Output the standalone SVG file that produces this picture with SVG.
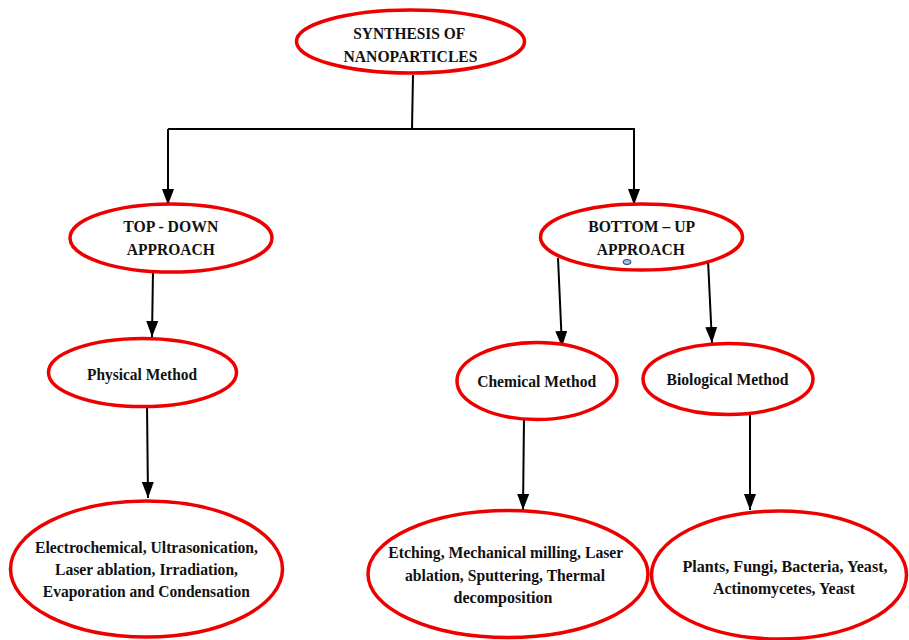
<svg xmlns="http://www.w3.org/2000/svg" width="909" height="640" viewBox="0 0 909 640">
<style>
.n ellipse{fill:#fff;stroke:#ee0000;stroke-width:3.5}
.n text{font-family:"Liberation Serif","Times New Roman",serif;font-weight:bold;font-size:17.5px;fill:#111;text-anchor:middle}
#biological-list text{font-size:16.5px}
.c line,.c polyline{stroke:#000;stroke-width:2;fill:none}
</style>
<defs>
<marker id="arr" viewBox="0 0 16 12" refX="16" refY="6" markerWidth="16" markerHeight="12" markerUnits="userSpaceOnUse" orient="auto">
<path d="M0,0 L16,6 L0,12 Z" fill="#000"/>
</marker>
</defs>
<rect width="909" height="640" fill="#fff"/>
<g class="c">
<line x1="413" y1="75" x2="412" y2="129"/>
<polyline points="168,129 634,129 634,205" marker-end="url(#arr)"/>
<line x1="168" y1="129" x2="168" y2="205" marker-end="url(#arr)"/>
<line x1="153" y1="270" x2="152" y2="337" marker-end="url(#arr)"/>
<line x1="147" y1="404" x2="148" y2="498" marker-end="url(#arr)"/>
<line x1="558" y1="258" x2="562" y2="347" marker-end="url(#arr)"/>
<line x1="708" y1="260" x2="712" y2="343" marker-end="url(#arr)"/>
<line x1="524" y1="418" x2="523" y2="510" marker-end="url(#arr)"/>
<line x1="750" y1="411" x2="750" y2="510" marker-end="url(#arr)"/>
</g>
<g id="synthesis" class="n">
<ellipse cx="410.5" cy="41.5" rx="114" ry="31.5"/>
<text x="409.2" y="38.5" textLength="112" lengthAdjust="spacingAndGlyphs">SYNTHESIS OF</text>
<text x="410.5" y="61.5" textLength="134" lengthAdjust="spacingAndGlyphs">NANOPARTICLES</text>
</g>
<g id="topdown" class="n">
<ellipse cx="171" cy="238" rx="101" ry="34"/>
<text x="170.8" y="231.5" textLength="95" lengthAdjust="spacingAndGlyphs">TOP - DOWN</text>
<text x="170.8" y="254.5" textLength="88" lengthAdjust="spacingAndGlyphs">APPROACH</text>
</g>
<g id="bottomup" class="n">
<ellipse cx="641.5" cy="237" rx="101" ry="33"/>
<text x="641.7" y="231.5" textLength="107" lengthAdjust="spacingAndGlyphs">BOTTOM – UP</text>
<text x="640.8" y="254.5" textLength="88" lengthAdjust="spacingAndGlyphs">APPROACH</text>
<ellipse cx="627" cy="262" rx="4" ry="2.5" style="fill:#9cc3e6;stroke:#1f3b63;stroke-width:1"/>
</g>
<g id="physical" class="n">
<ellipse cx="142.5" cy="372.5" rx="94" ry="34"/>
<text x="142" y="380" textLength="110" lengthAdjust="spacingAndGlyphs">Physical Method</text>
</g>
<g id="chemical" class="n">
<ellipse cx="537" cy="381" rx="80" ry="38.5"/>
<text x="536.7" y="387" textLength="119" lengthAdjust="spacingAndGlyphs">Chemical Method</text>
</g>
<g id="biological" class="n">
<ellipse cx="728" cy="379" rx="85" ry="35.5"/>
<text x="727.5" y="385" textLength="122" lengthAdjust="spacingAndGlyphs">Biological Method</text>
</g>
<g id="physical-list" class="n">
<ellipse cx="146.5" cy="569" rx="136" ry="68"/>
<text x="146.5" y="553" textLength="223" lengthAdjust="spacingAndGlyphs">Electrochemical, Ultrasonication,</text>
<text x="146.5" y="575" textLength="183" lengthAdjust="spacingAndGlyphs">Laser ablation, Irradiation,</text>
<text x="146.3" y="597" textLength="207" lengthAdjust="spacingAndGlyphs">Evaporation and Condensation</text>
</g>
<g id="chemical-list" class="n">
<ellipse cx="508" cy="574" rx="140" ry="63.5"/>
<text x="505.8" y="558" textLength="235" lengthAdjust="spacingAndGlyphs">Etching, Mechanical milling, Laser</text>
<text x="505" y="581" textLength="200" lengthAdjust="spacingAndGlyphs">ablation, Sputtering, Thermal</text>
<text x="503" y="603" textLength="99" lengthAdjust="spacingAndGlyphs">decomposition</text>
</g>
<g id="biological-list" class="n">
<ellipse cx="779" cy="575" rx="127.5" ry="64"/>
<text x="785" y="572" textLength="205" lengthAdjust="spacingAndGlyphs">Plants, Fungi, Bacteria, Yeast,</text>
<text x="784" y="594" textLength="142" lengthAdjust="spacingAndGlyphs">Actinomycetes, Yeast</text>
</g>
</svg>
